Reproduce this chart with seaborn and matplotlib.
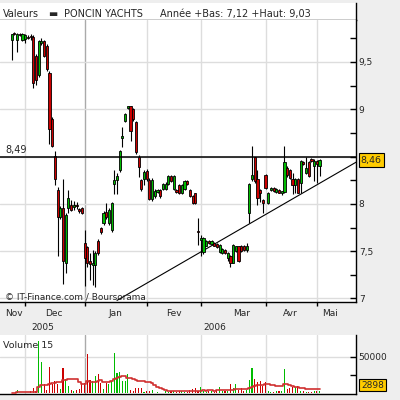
import numpy as np
import pandas as pd
import matplotlib
matplotlib.use("Agg")
import matplotlib.pyplot as plt
import matplotlib.transforms as mtransforms
import seaborn as sns

# ---------------- data ----------------
opens = [9.73, 9.80, 9.73, 9.80, 9.73,
         9.74, 9.76, 9.77, 9.76, 9.56, 9.36, 9.70, 9.72, 9.67, 9.38, 8.90, 8.51, 8.15, 7.86, 7.96,
         7.38, 7.96, 7.99, 7.97, 7.99, 7.95, 7.96,
         7.59, 7.54, 7.40, 7.35, 7.35, 7.61, 7.75, 7.80, 7.91, 7.80, 7.72, 8.21, 8.25, 8.36,
         8.70, 8.88, 9.01, 9.03, 9.00, 8.87, 8.50, 8.25, 8.26,
         8.35, 8.25, 8.05, 8.08, 8.13, 8.15, 8.16, 8.16, 8.21, 8.29, 8.16, 8.15, 8.20, 8.11, 8.16,
         8.24, 8.15, 8.08, 8.11, 7.71,
         7.62, 7.49, 7.56, 7.61, 7.58, 7.59, 7.58, 7.49, 7.48, 7.51, 7.43, 7.45, 7.38, 7.50, 7.55,
         7.56, 7.56, 7.51, 7.90, 8.26, 8.49, 8.26, 8.15, 8.04,
         8.31, 8.01, 8.15, 8.17, 8.13, 8.15, 8.12, 8.13, 8.38, 8.36, 8.26, 8.20, 8.26, 8.22, 8.44,
         8.33, 8.44, 8.47, 8.40,
         8.45, 8.40]
highs = [9.80, 9.82, 9.81, 9.81, 9.81,
         9.80, 9.78, 9.79, 9.78, 9.58, 9.73, 9.75, 9.73, 9.69, 9.40, 8.92, 8.56, 8.18, 7.98, 8.26,
         7.90, 8.15, 8.04, 8.03, 8.02, 7.96, 7.97,
         7.72, 7.56, 7.48, 7.51, 7.50, 7.63, 7.76, 7.92, 8.01, 7.96, 8.02, 8.36, 8.33, 8.57,
         8.81, 8.96, 9.03, 9.03, 9.01, 8.88, 8.52, 8.26, 8.36,
         8.37, 8.27, 8.27, 8.16, 8.16, 8.16, 8.22, 8.23, 8.30, 8.30, 8.30, 8.16, 8.21, 8.21, 8.25,
         8.25, 8.16, 8.09, 8.12, 7.85,
         7.67, 7.65, 7.62, 7.62, 7.62, 7.60, 7.59, 7.58, 7.53, 7.52, 7.49, 7.46, 7.58, 7.56, 7.56,
         7.57, 7.57, 7.59, 8.22, 8.61, 8.50, 8.36, 8.16, 8.05,
         8.32, 8.13, 8.18, 8.18, 8.17, 8.16, 8.14, 8.61, 8.40, 8.37, 8.33, 8.27, 8.27, 8.46, 8.45,
         8.49, 8.45, 8.48, 8.47,
         8.46, 8.47]
lows = [9.52, 9.78, 9.61, 9.77, 9.72,
        9.70, 9.74, 9.73, 9.22, 9.26, 9.34, 9.68, 9.55, 9.40, 8.63, 8.60, 8.20, 7.45, 7.84, 7.15,
        7.27, 7.90, 7.92, 7.93, 7.95, 7.90, 7.89,
        7.13, 7.33, 7.20, 7.14, 7.12, 7.46, 7.68, 7.78, 7.84, 7.78, 7.70, 8.10, 8.10, 8.34,
        8.60, 8.87, 9.00, 8.66, 8.88, 8.53, 8.28, 8.14, 8.20,
        8.24, 8.04, 8.03, 8.06, 8.12, 8.06, 8.15, 8.15, 8.20, 8.23, 8.15, 8.12, 8.10, 8.10, 8.15,
        8.20, 8.07, 8.00, 8.00, 7.57,
        7.45, 7.47, 7.55, 7.58, 7.57, 7.55, 7.53, 7.48, 7.47, 7.47, 7.40, 7.33, 7.37, 7.49, 7.39,
        7.49, 7.50, 7.49, 7.80, 8.24, 8.22, 7.99, 8.02, 7.90,
        8.16, 8.00, 8.14, 8.13, 8.12, 8.11, 8.09, 8.12, 8.28, 8.26, 8.10, 8.12, 8.11, 8.12, 8.41,
        8.32, 8.28, 8.44, 8.24,
        8.22, 8.29]
closes = [9.79, 9.79, 9.80, 9.78, 9.80,
          9.78, 9.75, 9.76, 9.28, 9.31, 9.72, 9.72, 9.56, 9.42, 8.79, 8.61, 8.26, 7.86, 7.96, 7.40,
          7.88, 8.06, 7.94, 7.99, 7.98, 7.92, 7.90,
          7.43, 7.38, 7.36, 7.37, 7.48, 7.48, 7.70, 7.90, 7.86, 7.94, 8.01, 8.25, 8.29, 8.56,
          8.72, 8.95, 9.03, 8.77, 8.90, 8.55, 8.39, 8.16, 8.34,
          8.26, 8.05, 8.25, 8.14, 8.15, 8.08, 8.21, 8.21, 8.29, 8.24, 8.29, 8.13, 8.11, 8.20, 8.24,
          8.21, 8.08, 8.01, 8.01, 7.70,
          7.64, 7.64, 7.61, 7.59, 7.61, 7.56, 7.54, 7.57, 7.52, 7.48, 7.48, 7.38, 7.57, 7.55, 7.40,
          7.50, 7.51, 7.56, 8.21, 8.31, 8.24, 8.06, 8.12, 8.01,
          8.17, 8.12, 8.17, 8.14, 8.16, 8.12, 8.13, 8.44, 8.30, 8.27, 8.20, 8.26, 8.12, 8.45, 8.42,
          8.38, 8.29, 8.45, 8.45,
          8.42, 8.46]
volumes = [500, 800, 4500, 800, 300, 300, 800, 3100, 7700, 3100,
           71400, 43200, 12300, 4500, 35900, 12300, 16800, 12300, 5400, 34200,
           19100, 10000, 4500, 3100, 4500, 5400, 14500, 14500, 53300, 17800,
           16800, 23600, 26000, 14500, 5400, 14500, 12300, 16800, 55500, 28100,
           29100, 16800, 16800, 26000, 4500, 3100, 7700, 7700, 7700, 1800,
           3100, 3100, 4500, 800, 1800, 800, 500, 3700, 1400, 3700,
           3700, 2300, 3700, 3700, 1400, 1400, 4600, 6000, 6900, 3700,
           8200, 3700, 1400, 3700, 3700, 2300, 3700, 9100, 3700, 3700,
           3700, 12800, 6900, 12800, 4600, 6900, 3700, 4600, 18300, 34700,
           19600, 15100, 17400, 10500, 15100, 2700, 1400, 1400, 2700, 2700,
           3700, 33800, 6000, 6900, 9100, 8200, 10500, 2700, 2700, 1400,
           1400, 1400, 2700, 2700, 2898]

month_names = ["Nov", "Dec", "Jan", "Fev", "Mar", "Avr", "Mai"]
month_label_pos = [0.7, 15.5, 38.5, 60.0, 85.0, 103.0, 118.0]
month_start = [5, 27, 50, 70, 94, 113]      # first session of Dec, Jan, Fev, Mar, Avr, Mai
year_start = 27                              # first session of 2006
year_labels = ["2005", "2006"]
year_label_pos = [11.6, 75.3]
resistance = 8.49
trend_x = [39.0, 127.5]
trend_y = [6.98, 8.44]
price_ticks = [7, 7.5, 8, 8.5, 9, 9.5]
price_tick_labels = ["7", "7,5", "8", "", "9", "9,5"]
price_minor = [7.25, 7.75, 8.25, 8.75, 9.25, 9.75]
vol_ticks = [25000, 50000]
vol_tick_labels = ["", "50000"]
ma_window = 15
title_name = "PONCIN YACHTS"

# ---------------- style ----------------
sns.set_theme(style="white")
plt.rcParams['font.family'] = ['DejaVu Sans']

W = H = 400
fig = plt.figure(figsize=(4, 4), dpi=100, facecolor='#EEEEEE')
def fx(px): return px / W
def fy(py): return 1 - py / H

ax_head = fig.add_axes([0, fy(20), fx(356), (20 - 3) / H])
ax = fig.add_axes([0, fy(302), fx(356), (302 - 20) / H])
axv = fig.add_axes([0, fy(394), fx(356), (394 - 335) / H])

GREEN = '#00BB00'
RED = '#CC0000'
GRID = '#DDDDDD'

idx = np.arange(len(opens))
o = np.array(opens); c = np.array(closes)
up = c > o
colors = np.where(up, GREEN, RED)
xlim = (-4.33, 127.5)

# header
ax_head.set_facecolor('white')
ax_head.set_xticks([]); ax_head.set_yticks([])
for s in ['left', 'top']:
    ax_head.spines[s].set_visible(False)
for s in ['bottom', 'right']:
    ax_head.spines[s].set_color('black'); ax_head.spines[s].set_linewidth(1)

lo2006 = min(lows[year_start:])
hi2006 = max(highs[year_start:])
fig.text(fx(3), fy(17.3), "Valeurs", fontsize=7, va='baseline', ha='left')
fig.text(fx(48), fy(17.3), "\u25AC", fontsize=7, va='baseline', ha='left')
fig.text(fx(64), fy(17.3), title_name, fontsize=7, va='baseline', ha='left')
fig.text(fx(160), fy(17.3),
         "Année +Bas: " + f"{lo2006:.2f}".replace('.', ',') + " +Haut: " + f"{hi2006:.2f}".replace('.', ','),
         fontsize=7, va='baseline', ha='left')

# ---------------- main price panel ----------------
ax.set_facecolor('white')
ax.set_xlim(*xlim)
ax.set_ylim(6.963, 9.943)
for m in month_start:
    ax.axvline(m, color='#AAAAAA' if m == year_start else GRID, lw=1, zorder=0)
for t in price_ticks:
    ax.axhline(t, color=GRID, lw=1, zorder=0)

ax.vlines(idx, lows, highs, color='black', lw=0.8, zorder=3)
body_bottom = np.minimum(o, c)
body_h = np.maximum(np.abs(c - o), 0.012)
ax.bar(idx, body_h, bottom=body_bottom, width=0.8, color=colors,
       edgecolor='black', linewidth=0.6, zorder=4)

sns.lineplot(x=trend_x, y=trend_y, ax=ax, color='black', lw=0.8, zorder=2)
ax.axhline(resistance, color='black', lw=1.1, zorder=5)

blend = mtransforms.blended_transform_factory(ax.transAxes, ax.transData)
ax.annotate(f"{resistance:.2f}".replace('.', ','), xy=(5 / 356, resistance), xycoords=blend,
            xytext=(0, 2), textcoords='offset points', fontsize=7, va='bottom', ha='left')
ax.annotate(f"{closes[-1]:.2f}".replace('.', ','), xy=(1, closes[-1]), xycoords=blend,
            xytext=(3.5, 0), textcoords='offset points', ha='left', va='center', fontsize=6.8,
            bbox=dict(boxstyle='square,pad=0.25', fc='#FFCC00', ec='black', lw=0.8),
            annotation_clip=False, zorder=10)

ax.yaxis.tick_right()
ax.set_yticks(price_ticks)
ax.set_yticklabels(price_tick_labels)
ax.set_yticks(price_minor, minor=True)
ax.tick_params(axis='y', which='both', direction='in', length=4, width=1, color='black',
               pad=2, labelsize=6.5, right=True, left=False)
ax.set_xticks(month_start)
ax.set_xticklabels([])
ax.tick_params(axis='x', which='both', direction='out', length=3, width=1, color='black',
               bottom=True, top=False)
for s in ['left', 'top']:
    ax.spines[s].set_visible(False)
for s in ['bottom', 'right']:
    ax.spines[s].set_color('black'); ax.spines[s].set_linewidth(1)
ax.set_xlabel(''); ax.set_ylabel('')

fig.text(fx(5), fy(299), "\u00A9 IT-Finance.com / Boursorama", fontsize=6.4, va='baseline', ha='left')

trans_lbl = mtransforms.blended_transform_factory(ax.transData, fig.transFigure)
for name, pos in zip(month_names, month_label_pos):
    ax.text(pos, fy(316), name, fontsize=6.5, ha='center', va='baseline',
            transform=trans_lbl, clip_on=False)
for name, pos in zip(year_labels, year_label_pos):
    ax.text(pos, fy(329.5), name, fontsize=6.5, ha='center', va='baseline',
            transform=trans_lbl, clip_on=False)

# ---------------- volume panel ----------------
axv.set_facecolor('white')
axv.set_xlim(*xlim)
axv.set_ylim(-1000, 79600)
for m in month_start:
    axv.axvline(m, color='#AAAAAA' if m == year_start else GRID, lw=1, zorder=0)
axv.axhline(50000, color=GRID, lw=1, zorder=0)
axv.bar(idx, volumes, width=0.4, color=colors, linewidth=0, zorder=3)
vol_ma = pd.Series(volumes, dtype=float).rolling(ma_window, min_periods=1).mean()
sns.lineplot(x=idx, y=vol_ma.values, ax=axv, color='#D03030', lw=1.2,
             drawstyle='steps-mid', zorder=4)
axv.yaxis.tick_right()
axv.set_yticks(vol_ticks)
axv.set_yticklabels(vol_tick_labels)
axv.tick_params(axis='y', which='both', direction='in', length=4, width=1, color='black',
                pad=2, labelsize=6.5, right=True, left=False)
axv.set_xticks([])
for s in ['left', 'top']:
    axv.spines[s].set_visible(False)
for s in ['bottom', 'right']:
    axv.spines[s].set_color('black'); axv.spines[s].set_linewidth(1)
axv.set_xlabel(''); axv.set_ylabel('')
axv.text(3 / 356, 1 - (348.3 - 335) / 59, f"Volume {ma_window}", transform=axv.transAxes,
         fontsize=6.8, va='baseline', ha='left')
axv.annotate(f"{volumes[-1]}", xy=(1, (394 - 385) / 59), xycoords='axes fraction',
             xytext=(3.5, 0), textcoords='offset points', ha='left', va='center', fontsize=6.5,
             bbox=dict(boxstyle='square,pad=0.2', fc='#FFCC00', ec='black', lw=0.8),
             annotation_clip=False, zorder=10)

fig.savefig("out.png", dpi=100, facecolor=fig.get_facecolor())
